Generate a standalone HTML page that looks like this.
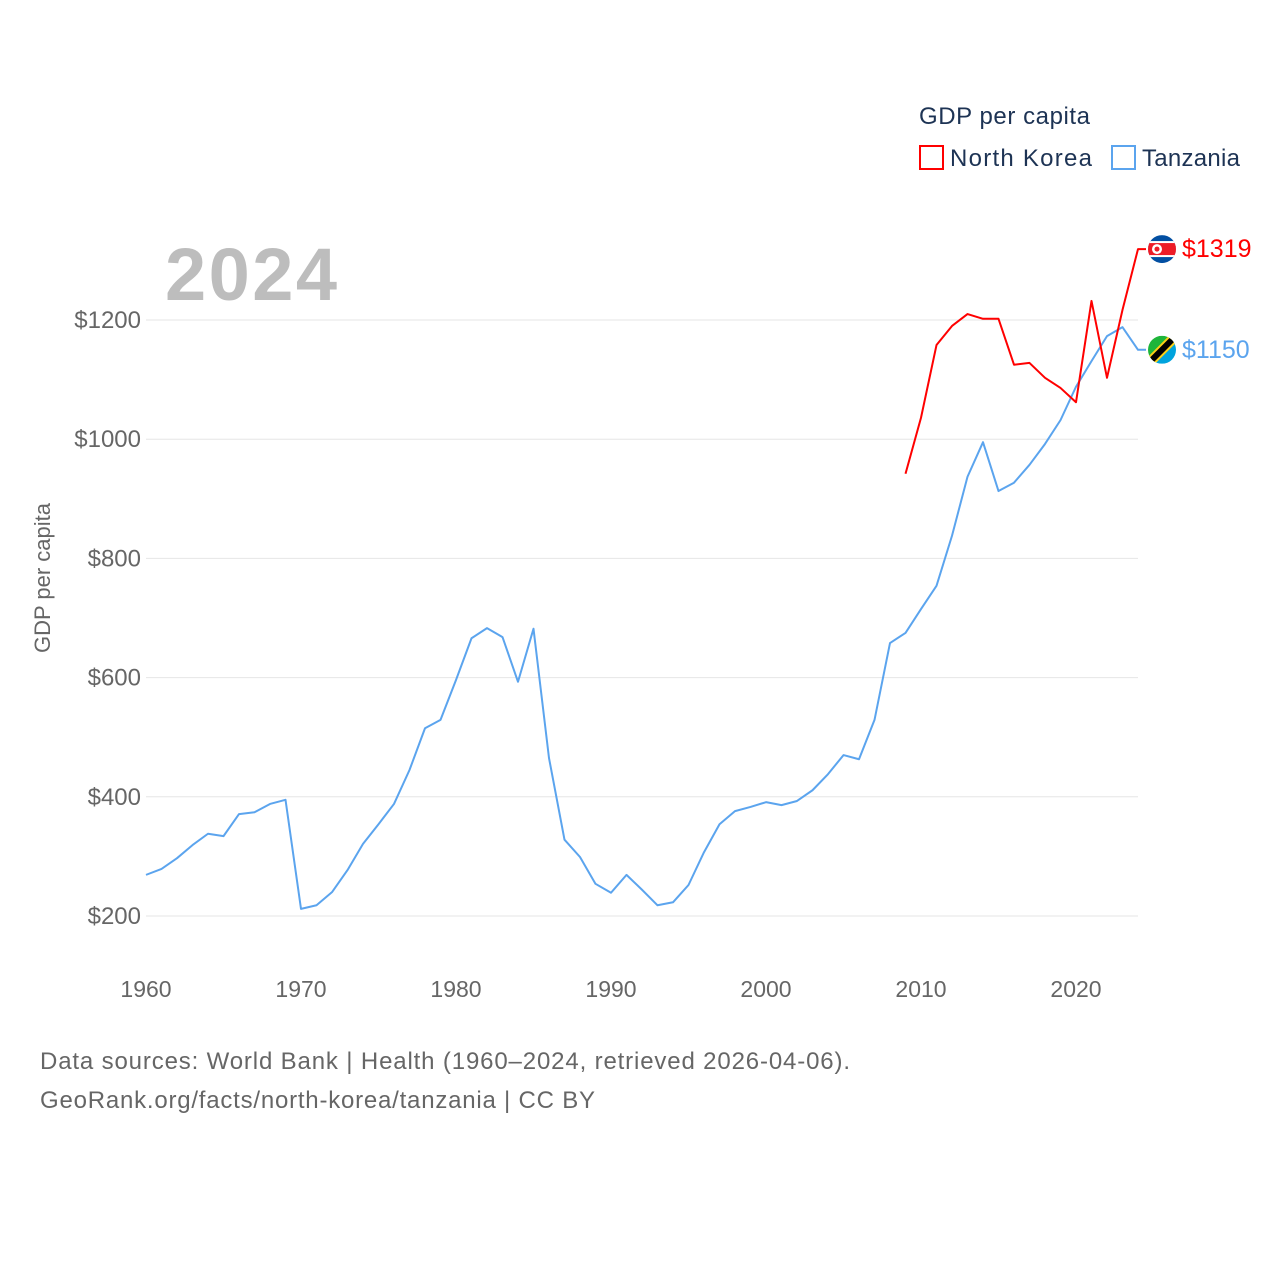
<!DOCTYPE html>
<html><head><meta charset="utf-8"><style>
body{margin:0;background:#fff;font-family:"Liberation Sans",sans-serif;}
svg text{font-family:"Liberation Sans",sans-serif;}
</style></head><body>
<svg width="1280" height="1280" viewBox="0 0 1280 1280" id="chart">
<rect width="1280" height="1280" fill="#fff"/>
<text x="919" y="124" font-size="24" fill="#1d3354" textLength="171">GDP per capita</text>
<g>
<rect x="920" y="146" width="23" height="23" fill="none" stroke="#ff0000" stroke-width="2"/>
<text x="950" y="166" font-size="24" fill="#1d3354" textLength="142">North Korea</text></g>
<g>
<rect x="1112" y="146" width="23" height="23" fill="none" stroke="#5ba4ee" stroke-width="2"/>
<text x="1142" y="166" font-size="24" fill="#1d3354" textLength="98">Tanzania</text></g>
<text x="165" y="300" font-size="74" font-weight="bold" fill="#bdbdbd" textLength="172">2024</text>
<text transform="translate(50,578) rotate(-90)" text-anchor="middle" font-size="22" fill="#666">GDP per capita</text>
<g id="grid"></g><g id="xt"></g><g id="lines"></g><g id="ends"></g>
<text x="40" y="1069" font-size="24" fill="#666" textLength="810">Data sources: World Bank | Health (1960–2024, retrieved 2026-04-06).</text>
<text x="40" y="1108" font-size="24" fill="#666" textLength="555">GeoRank.org/facts/north-korea/tanzania | CC BY</text>
</svg>
<script>
const yTicks=[200,400,600,800,1000,1200];
const xTicks=[1960,1970,1980,1990,2000,2010,2020];
const tzYears=[];for(let y=1960;y<=2024;y++)tzYears.push(y);
const tzValues=[269,279,297,319,338,334,371,374,388,395,212,218,240,277,321,354,388,445,515,529,596,666,683,668,593,682,465,328,299,254,239,269,244,218,223,252,307,354,376,383,391,386,393,411,438,470,463,529,658,675,715,754,838,937,995,913,927,957,992,1032,1088,1131,1173,1188,1150];
const nkYears=[2009,2010,2011,2012,2013,2014,2015,2016,2017,2018,2019,2020,2021,2022,2023,2024];
const nkValues=[942,1036,1158,1190,1210,1202,1202,1125,1128,1103,1086,1062,1232,1103,1217,1319];
const NS="http://www.w3.org/2000/svg";
const X=v=>146+(v-1960)*15.5;
const Y=v=>916-(v-200)*0.596;
function mk(t,a,p){const e=document.createElementNS(NS,t);for(const k in a)e.setAttribute(k,a[k]);p.appendChild(e);return e;}
const grid=document.getElementById('grid');
yTicks.forEach(v=>{
 const l=mk('line',{x1:146,x2:1138,y1:Y(v),y2:Y(v),stroke:'#e6e6e6','stroke-width':1},grid);
 
 
 const t=mk('text',{x:141,y:Y(v)+8,'text-anchor':'end','font-size':24,fill:'#666'},grid);
 
 
 t.textContent='$'+v;
});
const xt=document.getElementById('xt');
xTicks.forEach(v=>{
 const t=mk('text',{x:X(v),y:997,'text-anchor':'middle','font-size':23,fill:'#666'},xt);
 
 
 t.textContent=v;
});
const lines=document.getElementById('lines');
function series(ys,vs,c,name){
 const d=ys.map((y,i)=>(i?'L':'M')+X(y)+','+Y(vs[i])).join(' ')+' H'+(X(ys[ys.length-1])+8);
 const p=mk('path',{d:d,fill:'none',stroke:c,'stroke-width':2,'stroke-linejoin':'round'},lines);
 
 
}
series(tzYears,tzValues,'#5ba4ee','line-tanzania');
series(nkYears,nkValues,'#ff0000','line-north-korea');
const ends=document.getElementById('ends');
function endLabel(v,c,name,flag){
 const cy=Y(v),cx=1162;
 const g=mk('g',{},ends);
 
 
 g.innerHTML=flag(cx,cy);
 const t=mk('text',{x:1182,y:cy+8,'font-size':25,fill:c},g);
 t.textContent='$'+v;
}
endLabel(nkValues[nkValues.length-1],'#ff0000','end-label-north-korea',(x,y)=>
 `<clipPath id="c1"><circle cx="${x}" cy="${y}" r="14"/></clipPath><g clip-path="url(#c1)"><rect x="${x-14}" y="${y-14}" width="28" height="28" fill="#024fa2"/><rect x="${x-14}" y="${y-8}" width="28" height="16" fill="#fff"/><rect x="${x-14}" y="${y-6}" width="28" height="12" fill="#ed1c27"/><circle cx="${x-5}" cy="${y}" r="5" fill="#fff"/><circle cx="${x-5}" cy="${y}" r="2.5" fill="#ed1c27"/></g>`);
endLabel(tzValues[tzValues.length-1],'#5ba4ee','end-label-tanzania',(x,y)=>
 `<clipPath id="c2"><circle cx="${x}" cy="${y}" r="14"/></clipPath><g clip-path="url(#c2)"><polygon points="${x-14},${y-14} ${x+14},${y-14} ${x-14},${y+14}" fill="#1eb53a"/><polygon points="${x+14},${y-14} ${x+14},${y+14} ${x-14},${y+14}" fill="#00a3dd"/><line x1="${x-16}" y1="${y+16}" x2="${x+16}" y2="${y-16}" stroke="#fcd116" stroke-width="10"/><line x1="${x-16}" y1="${y+16}" x2="${x+16}" y2="${y-16}" stroke="#000" stroke-width="6"/></g>`);
</script>
</body></html>
